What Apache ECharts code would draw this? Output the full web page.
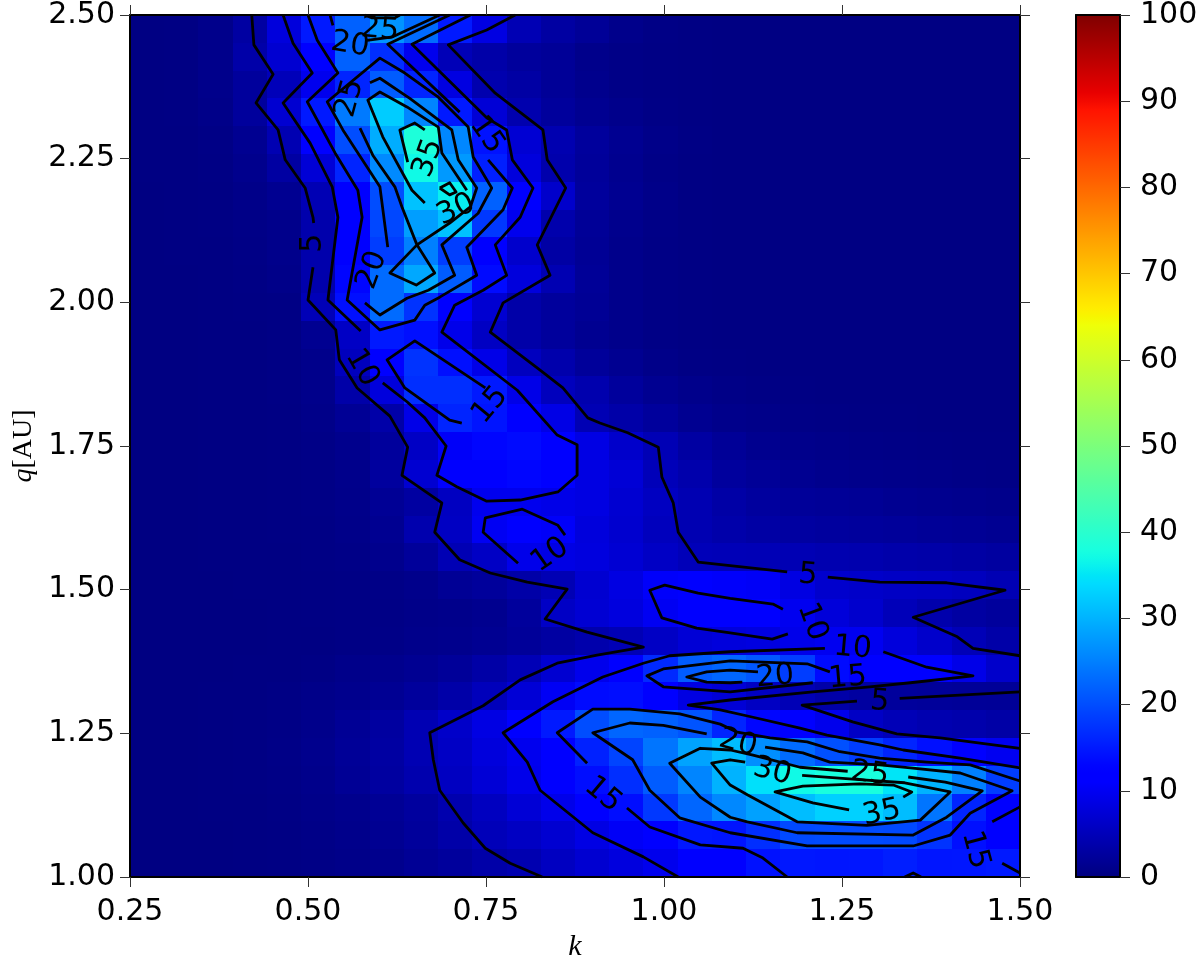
<!DOCTYPE html>
<html>
<head>
<meta charset="utf-8">
<style>
    html, body { margin: 0; padding: 0; background: #fff; }
    #chart { width: 1200px; height: 956px; }
</style>
<script src="https://cdn.jsdelivr.net/npm/echarts@6/dist/echarts.min.js"></script>
</head>
<body>
<div id="chart"></div>
<script>
// cell values, rows run from q = 2.5 (top) down to q = 1.0, columns from k = 0.25 to 1.5
var cellRows = [
    [.3,.4,1,3,8,15,22,27, 23,15,8.5,4.5,3,2,1,.6,.4,.3,.3,.3,.3,.3,.3,.3,.3,.3],
    [.3,.4,1,3.5,7,12,22,17, 9.5,4.8,3.5,2.5,2,1,.7,.5,.4,.3,.3,.3,.3,.3,.3,.3,.3,.3],
    [.3,.4,1,2.5,5,9.5,16,21.5, 16,8.4,4,3.2,2,1.2,.7,.5,.4,.3,.3,.3,.3,.3,.3,.3,.3,.3],
    [.3,.4,.8,2.5,7,15,24.5,32.5, 25.5,15,7.5,4,2.5,1.5,1,.6,.4,.3,.3,.3,.3,.3,.3,.3,.3,.3],
    [.3,.3,.6,1.5,4.3,11,20,29.5, 38.5,25.7,14.3,7.2,4.2,2.5,1.5,.8,.5,.3,.3,.3,.3,.3,.3,.3,.3,.3],
    [.3,.3,.5,1.2,3,7.5,16,26, 37,27.5,15.5,8,3.8,2.3,1.3,.7,.4,.3,.3,.3,.3,.3,.3,.3,.3,.3],
    [.2,.3,.4,.8,1.5,4.5,12,20, 31.5,36,22,12.5,6.5,2.5,1.5,.8,.4,.3,.3,.3,.3,.3,.3,.3,.3,.3],
    [.2,.3,.4,.7,1,3.8,11,19.5, 28,31.5,18,9.5,3.8,2,1.2,.7,.4,.3,.3,.3,.3,.3,.3,.3,.3,.3],
    [.2,.3,.3,.6,1,3.8,12.5,18.5, 25,18.5,11.5,6.6,3.2,1.8,1,.6,.4,.3,.3,.3,.3,.3,.3,.3,.3,.3],
    [.2,.2,.3,.5,.8,3.8,13,23, 29,21.5,13.5,8,4.3,2,1,.6,.4,.3,.3,.3,.3,.3,.3,.3,.3,.3],
    [.2,.2,.3,.4,.5,4.8,14,23, 17.5,11.5,7,3.5,2.5,1.8,1,.6,.4,.3,.3,.3,.3,.3,.3,.3,.3,.3],
    [.2,.2,.3,.3,.5,1.5,6,15, 14,9.2,5.8,3.5,2.5,1.5,1,.6,.4,.3,.3,.3,.3,.3,.3,.3,.3,.3],
    [.2,.2,.3,.3,.5,1,5.3,11.5, 17.5,14,9,5.5,3.8,2.3,1.5,.8,.5,.4,.3,.3,.3,.3,.3,.3,.3,.3],
    [.2,.2,.3,.3,.5,1,3.5,8, 17,17,15,9,5.3,4,2.5,1.5,1,.7,.5,.4,.3,.3,.3,.3,.3,.3],
    [.2,.2,.3,.3,.4,.8,1.8,3.5, 9,16,14.5,12.5,8.8,4.5,3.5,2.5,1.5,1,.8,.6,.5,.4,.4,.3,.3,.3],
    [.2,.2,.3,.3,.4,.7,1.2,2.5, 6,10.5,13,13.5,11.5,8.7,6.5,4.6,3,2,1.3,1,.8,.7,.6,.5,.4,.4],
    [.2,.2,.3,.3,.4,.6,1,2.7, 7,11.5,12.5,13,11.5,8.5,7.5,5,3.8,2.6,2,1.5,1.2,1,.9,.8,.7,.6],
    [.2,.2,.3,.3,.4,.6,.9,1.8, 2.9,5.7,9.5,9.5,9,8.5,7,5.7,4.3,3.3,2.7,2.2,2,1.8,1.5,1.3,1.2,1],
    [.2,.2,.3,.3,.4,.5,.8,1.5, 4,5.8,10,11,10.5,8,6.8,5.3,4.3,3.7,3.2,2.9,2.7,2.5,2.3,2,1.8,1.6],
    [.2,.2,.3,.3,.3,.5,.7,1.2, 2.3,4.5,6,9.2,8.7,8.2,7.2,6,5,4.8,4.7,4.5,4.2,4,3.7,3.5,3.2,2.8],
    [.2,.2,.2,.3,.3,.4,.5,.7, 1,1.8,2.4,3.4,4.5,7,8.5,10.7,11,10.7,10.3,8.5,6.7,6.3,6,5.8,5.4,4.5],
    [.2,.2,.2,.2,.3,.4,.5,.6, .8,1,1.3,2.5,6,7.2,8.2,10,11,11.3,11.2,9.7,7.8,6.7,5,3.8,3,2.5],
    [.2,.2,.2,.2,.3,.3,.5,.7, 1,1.2,1.6,2.2,3,3.8,4.6,6,7.5,8,8.3,9.2,9.8,9.8,8,6.5,4.8,3.5],
    [.2,.2,.2,.3,.3,.5,.9,1.2, 1.6,2.2,3.3,4.7,7,9.3,12.5,16.5,21.5,22.5,21,18.5,13.5,12,11.5,11,9,6.5],
    [.2,.2,.3,.3,.5,.8,1.2,1.7, 2.5,3.5,5.2,7.5,10.2,13.5,13.8,12,8.5,7.5,5.8,4.7,3.5,2.8,2.5,2.3,2.1,2],
    [.2,.2,.3,.4,.6,1,1.8,2.8, 4.4,6.3,8.6,11.7,15,20,22.5,22,20.7,16,13,11.5,9.3,6,4.8,4.2,3.8,3.3],
    [.2,.2,.3,.4,.7,1.2,2,3, 4.4,6,8,9.5,12.3,15.7,19.2,24,28.5,31,26.5,23,20.3,18.5,16,14,11,9.8],
    [.2,.2,.3,.4,.6,1,1.8,2.8, 4,5.7,7.5,9.2,11.3,13.8,17,21.5,25.5,30,34.5,37,38,38,35,30,25,18.5],
    [.2,.2,.3,.3,.5,.8,1.2,1.8, 2.7,4,5.6,7.5,9.2,11,13.8,18,22.5,25.8,28.3,31,33,33,31,24,16,12],
    [.2,.2,.2,.3,.4,.7,1,1.6, 2.4,3.5,5,5.8,7,8.7,10.3,12,14.8,14.5,17,19.7,19.8,19.8,19.7,17.5,14,12],
    [.2,.2,.2,.3,.4,.6,.8,1.2, 1.8,2.5,3.5,4.2,5.7,7,8.2,9.4,11,12.5,14.2,14.8,14.6,14.7,15.4,14.6,14.7,15]
];

// contour lines, [k, q] per vertex, broken where a label sits
var contour5 = [
    [[.421,2.5],[.424,2.448],[.451,2.397],[.427,2.347],[.458,2.3],[.468,2.248],[.496,2.199],[.507,2.148],[.508,2.138]],
    [[.507,2.061],[.5,2.004],[.539,1.952],[.544,1.9],[.569,1.851],[.615,1.802],[.64,1.748],[.632,1.699],[.688,1.651],[.678,1.6],[.713,1.552],[.756,1.529],[.808,1.513],[.864,1.501],[.833,1.449],[.892,1.426],[.971,1.4],[.906,1.386],[.85,1.372],[.798,1.343],[.746,1.298],[.671,1.251],[.676,1.204],[.685,1.151],[.718,1.094],[.749,1.05],[.784,1.024],[.829,1]],
    [[.791,2.5],[.751,2.474],[.697,2.448],[.763,2.364],[.83,2.3],[.836,2.248],[.862,2.199],[.822,2.1],[.84,2.047],[.774,1.999],[.756,1.948],[.826,1.882],[.858,1.851],[.893,1.799],[.91,1.79],[.949,1.773],[.992,1.748],[.997,1.696],[1.013,1.651],[1.02,1.6],[1.048,1.548],[1.173,1.531]],
    [[1.23,1.522],[1.303,1.513],[1.397,1.512],[1.479,1.499],[1.35,1.452],[1.412,1.418],[1.434,1.398],[1.5,1.385]],
    [[1.5,1.322],[1.331,1.311]],
    [[1.271,1.306],[1.194,1.299],[1.265,1.27],[1.327,1.249],[1.388,1.242],[1.5,1.224]]
];
var contour10 = [
    [[.465,2.5],[.479,2.451],[.506,2.399],[.465,2.347],[.503,2.277],[.534,2.201],[.542,2.148],[.528,2.004],[.574,1.95]],
    [[.605,1.86],[.639,1.827],[.664,1.799],[.694,1.75],[.681,1.699],[.709,1.679],[.751,1.654],[.798,1.656],[.851,1.67],[.878,1.699],[.878,1.752],[.85,1.769],[.794,1.847],[.688,1.948],[.706,1.995],[.746,2.021],[.779,2.047],[.763,2.1],[.798,2.148],[.816,2.199],[.787,2.248],[.779,2.3],[.751,2.321],[.646,2.449],[.728,2.5]],
    [[.795,1.546],[.746,1.6],[.749,1.625],[.801,1.64],[.851,1.612],[.861,1.595]],
    [[1.167,1.466],[1.153,1.475],[1.093,1.485],[1.048,1.494],[1.001,1.508],[.98,1.499],[.997,1.451],[1.046,1.433],[1.093,1.425],[1.152,1.414],[1.174,1.423]],
    [[1.226,1.398],[1.093,1.392],[1.008,1.385],[.971,1.372],[.914,1.348],[.844,1.305],[.774,1.251],[.808,1.2],[.826,1.151],[.9,1.077],[.971,1.035],[1.02,1]],
    [[1.308,1.392],[1.369,1.365],[1.434,1.35],[1.346,1.338],[1.289,1.331],[1.209,1.322],[1.093,1.308],[1.034,1.299],[1.079,1.291],[1.125,1.278],[1.191,1.259],[1.229,1.247],[1.303,1.23],[1.336,1.221],[1.416,1.207],[1.5,1.19]]
];
var contour15 = [
    [[.5,2.5],[.513,2.456],[.542,2.399],[.499,2.349],[.538,2.26],[.57,2.195],[.576,2.148],[.555,2.004],[.601,1.952],[.65,1.969],[.664,1.995],[.685,2.009],[.737,2.047],[.723,2.096],[.774,2.161],[.787,2.199],[.753,2.248]],
    [[.713,2.331],[.612,2.449],[.699,2.5]],
    [[.716,1.79],[.699,1.795],[.636,1.851],[.611,1.9],[.65,1.933],[.749,1.851]],
    [[.892,1.198],[.85,1.251],[.9,1.292],[.952,1.292],[1.022,1.284],[1.079,1.266],[1.103,1.252],[1.149,1.242],[1.201,1.235],[1.247,1.218],[1.303,1.207],[1.369,1.2],[1.43,1.195],[1.5,1.167]],
    [[.948,1.12],[.98,1.087],[1.051,1.056],[1.111,1.05],[1.139,1.033],[1.173,1]],
    [[1.5,1.122],[1.461,1.096]],
    [[1.475,1.024],[1.5,1.007]],
    [[1.338,1],[1.35,1.007],[1.361,1]],
    [[1.233,1.357],[1.201,1.371],[1.093,1.376],[.999,1.362],[.976,1.35],[.999,1.331],[1.093,1.322],[1.209,1.338]]
];
var contour20 = [
    [[.531,2.5],[.535,2.482]],
    [[.583,2.456],[.619,2.462],[.685,2.5]],
    [[.612,2.096],[.601,2.201],[.549,2.3],[.527,2.349],[.601,2.425],[.636,2.399],[.683,2.357],[.725,2.305],[.732,2.253],[.758,2.199],[.739,2.155],[.688,2.1],[.706,2.047],[.669,2.021],[.639,2.007],[.601,1.978],[.58,1.999]],
    [[1.132,1.357],[1.093,1.36],[1.06,1.357],[1.032,1.348],[1.06,1.339],[1.093,1.338],[1.11,1.339]],
    [[1.06,1.249],[.999,1.264],[.952,1.268],[.9,1.251],[.956,1.204],[.98,1.151],[1.022,1.103],[1.093,1.077],[1.201,1.054],[1.35,1.054],[1.402,1.073],[1.43,1.111],[1.489,1.15],[1.416,1.181],[1.346,1.19],[1.303,1.195],[1.233,1.2],[1.195,1.216],[1.142,1.226]]
];
var contour25 = [
    [[.58,2.5],[.59,2.495],[.622,2.495],[.629,2.5]],
    [[.587,2.382],[.601,2.39],[.643,2.355],[.702,2.3],[.711,2.248],[.737,2.199],[.728,2.166],[.699,2.138],[.653,2.1],[.678,2.051],[.652,2.03],[.615,2.051],[.653,2.1],[.632,2.166],[.622,2.201],[.591,2.256],[.573,2.303]],
    [[1.258,1.184],[1.191,1.191],[1.125,1.212],[1.093,1.221],[1.051,1.224],[1.008,1.198],[1.051,1.139],[1.093,1.104],[1.117,1.096],[1.187,1.077],[1.35,1.073],[1.397,1.104],[1.447,1.15],[1.395,1.165],[1.343,1.174]]
];
var contour30 = [
    [[.664,2.173],[.646,2.195],[.605,2.288],[.584,2.352],[.601,2.366],[.639,2.34],[.683,2.305],[.688,2.26],[.723,2.195]],
    [[1.114,1.2],[1.093,1.204],[1.067,1.198],[1.093,1.16],[1.117,1.143],[1.187,1.096],[1.285,1.09],[1.36,1.099],[1.402,1.148],[1.338,1.164],[1.279,1.169],[1.194,1.177]]
];
var contour35 = [
    [[.664,2.3],[.65,2.312],[.629,2.3],[.64,2.244]],
    [[.685,2.199],[.699,2.208],[.708,2.192],[.699,2.187],[.685,2.199]],
    [[1.336,1.139],[1.348,1.148],[1.322,1.16],[1.275,1.162],[1.195,1.158],[1.156,1.148],[1.209,1.129],[1.26,1.117]]
];

// [k, q, text, rotation]
var contourLabels = [
    [.507,2.103,'5',90], [.601,2.474,'25',-5], [.559,2.448,'20',-10], [.559,2.355,'25',75],
    [.669,2.251,'35',70], [.708,2.161,'30',25], [.751,2.291,'15',-55], [.59,2.056,'20',70],
    [.576,1.886,'10',-60], [.756,1.821,'15',50], [.84,1.56,'10',35], [1.202,1.525,'5',-5],
    [1.208,1.444,'10',-70], [1.265,1.398,'10',-5], [1.258,1.346,'15',5], [1.156,1.348,'20',5],
    [1.303,1.305,'5',-5], [1.104,1.233,'20',-15], [1.152,1.183,'30',-15], [1.289,1.179,'25',-8],
    [1.306,1.111,'35',12], [.914,1.143,'15',-40], [1.437,1.047,'15',-75]
];

var kMin = 0.25, kMax = 1.5, qMin = 1, qMax = 2.5;
var fontName = 'DejaVu Sans';

// jet colormap
function ramp(t, pts) {
    for (var i = 1; i < pts.length; i++) {
        if (t <= pts[i][0]) {
            return pts[i-1][1] + (pts[i][1] - pts[i-1][1]) * (t - pts[i-1][0]) / (pts[i][0] - pts[i-1][0]);
        }
    }
    return pts[pts.length-1][1];
}
var jetColors = [];
for (var n = 0; n <= 200; n++) {
    var t = n / 200;
    var r = ramp(t, [[0,0],[.35,0],[.66,1],[.89,1],[1,.5]]);
    var g = ramp(t, [[0,0],[.125,0],[.375,1],[.64,1],[.91,0],[1,0]]);
    var b = ramp(t, [[0,.5],[.11,1],[.34,1],[.65,0],[1,0]]);
    jetColors.push('rgb(' + Math.round(r*255) + ',' + Math.round(g*255) + ',' + Math.round(b*255) + ')');
}

var cells = [];
cellRows.forEach(function(row, i) {
    var nr = cellRows.length, nc = row.length;
    row.forEach(function(v, j) {
        cells.push([
            kMin + j * (kMax - kMin) / nc,
            qMax - (i + 1) * (qMax - qMin) / nr,
            v,
            kMin + (j + 1) * (kMax - kMin) / nc,
            qMax - i * (qMax - qMin) / nr
        ]);
    });
});

var series = [{
    type: 'custom',
    xAxisIndex: 0,
    yAxisIndex: 0,
    z: 1,
    silent: true,
    progressive: 0,
    clip: true,
    encode: { x: 0, y: 1 },
    data: cells,
    renderItem: function(params, api) {
        var a = api.coord([api.value(0), api.value(1)]);
        var b = api.coord([api.value(3), api.value(4)]);
        var x0 = Math.round(a[0]), x1 = Math.round(b[0]);
        var y0 = Math.round(b[1]), y1 = Math.round(a[1]);
        return {
            type: 'rect',
            shape: { x: x0, y: y0, width: x1 - x0, height: y1 - y0 },
            style: { fill: api.visual('color') }
        };
    }
}];

[contour5, contour10, contour15, contour20, contour25, contour30, contour35].forEach(function(level) {
    level.forEach(function(piece) {
        series.push({
            type: 'line',
            xAxisIndex: 0,
            yAxisIndex: 0,
            z: 3,
            silent: true,
            symbol: 'none',
            animation: false,
            lineStyle: { color: '#000', width: 2.8, join: 'round' },
            data: piece
        });
    });
});

series.push({
    type: 'scatter',
    xAxisIndex: 0,
    yAxisIndex: 0,
    z: 4,
    silent: true,
    symbolSize: 0,
    itemStyle: { color: '#000', opacity: 1 },
    data: contourLabels.map(function(d) {
        return {
            value: [d[0], d[1]],
            label: {
                show: true,
                position: 'inside',
                formatter: d[2],
                rotate: d[3],
                color: '#000',
                opacity: 1,
                fontFamily: fontName,
                fontSize: 30
            }
        };
    })
});

function tickFmt(v) { return v.toFixed(2); }
var axisBase = { lineStyle: { color: '#000', width: 2 }, onZero: false };
var tickBase = { show: true, length: 10, lineStyle: { color: '#333', width: 1 } };

var myChart = echarts.init(document.getElementById('chart'));
myChart.setOption({
    animation: false,
    backgroundColor: '#fff',
    textStyle: { fontFamily: fontName },
    grid: [
        { left: 130, top: 15, width: 890, height: 862, outerBoundsMode: 'none' },
        { left: 1076, top: 15, width: 44, height: 862, outerBoundsMode: 'none' }
    ],
    xAxis: [
        {
            type: 'value', gridIndex: 0, position: 'bottom', min: kMin, max: kMax, interval: 0.25, z: 10,
            axisLine: axisBase, axisTick: tickBase, splitLine: { show: false },
            axisLabel: { margin: 20, color: '#000', fontSize: 30, fontFamily: fontName, formatter: tickFmt, showMinLabel: true, showMaxLabel: true },
            name: 'k', nameLocation: 'middle', nameGap: 54,
            nameTextStyle: { fontFamily: 'Liberation Serif', fontStyle: 'italic', fontSize: 30, color: '#000' }
        },
        {
            type: 'value', gridIndex: 0, position: 'top', min: kMin, max: kMax, interval: 0.25, z: 10,
            axisLine: axisBase, axisTick: tickBase, splitLine: { show: false }, axisLabel: { show: false }
        },
        {
            type: 'value', gridIndex: 1, position: 'bottom', min: 0, max: 1, z: 10,
            axisLine: axisBase, axisTick: { show: false }, splitLine: { show: false }, axisLabel: { show: false }
        },
        {
            type: 'value', gridIndex: 1, position: 'top', min: 0, max: 1, z: 10,
            axisLine: axisBase, axisTick: { show: false }, splitLine: { show: false }, axisLabel: { show: false }
        }
    ],
    yAxis: [
        {
            type: 'value', gridIndex: 0, position: 'left', min: qMin, max: qMax, interval: 0.25, z: 10,
            axisLine: axisBase, axisTick: tickBase, splitLine: { show: false },
            axisLabel: { margin: 15, color: '#000', fontSize: 30, fontFamily: fontName, formatter: tickFmt, showMinLabel: true, showMaxLabel: true },
            name: '{i|q}{r|[AU]}', nameLocation: 'middle', nameGap: 90, nameRotate: 90,
            nameTextStyle: {
                rich: {
                    i: { fontFamily: 'Liberation Serif', fontStyle: 'italic', fontSize: 28, color: '#000' },
                    r: { fontFamily: 'Liberation Serif', fontSize: 28, color: '#000' }
                }
            }
        },
        {
            type: 'value', gridIndex: 0, position: 'right', min: qMin, max: qMax, interval: 0.25, z: 10,
            axisLine: axisBase, axisTick: tickBase, splitLine: { show: false }, axisLabel: { show: false }
        },
        {
            type: 'value', gridIndex: 1, position: 'left', min: 0, max: 100, z: 10,
            axisLine: axisBase, axisTick: { show: false }, splitLine: { show: false }, axisLabel: { show: false }
        },
        {
            type: 'value', gridIndex: 1, position: 'right', min: 0, max: 100, interval: 10, z: 10,
            axisLine: axisBase, axisTick: tickBase, splitLine: { show: false },
            axisLabel: { margin: 20, color: '#000', fontSize: 30, fontFamily: fontName, showMinLabel: true, showMaxLabel: true }
        }
    ],
    visualMap: {
        type: 'continuous',
        seriesIndex: 0,
        dimension: 2,
        min: 0,
        max: 100,
        calculable: false,
        realtime: false,
        hoverLink: false,
        orient: 'vertical',
        left: 1076,
        top: 15,
        padding: 0,
        itemWidth: 44,
        itemHeight: 862,
        inRange: { color: jetColors }
    },
    series: series
});
</script>
</body>
</html>
